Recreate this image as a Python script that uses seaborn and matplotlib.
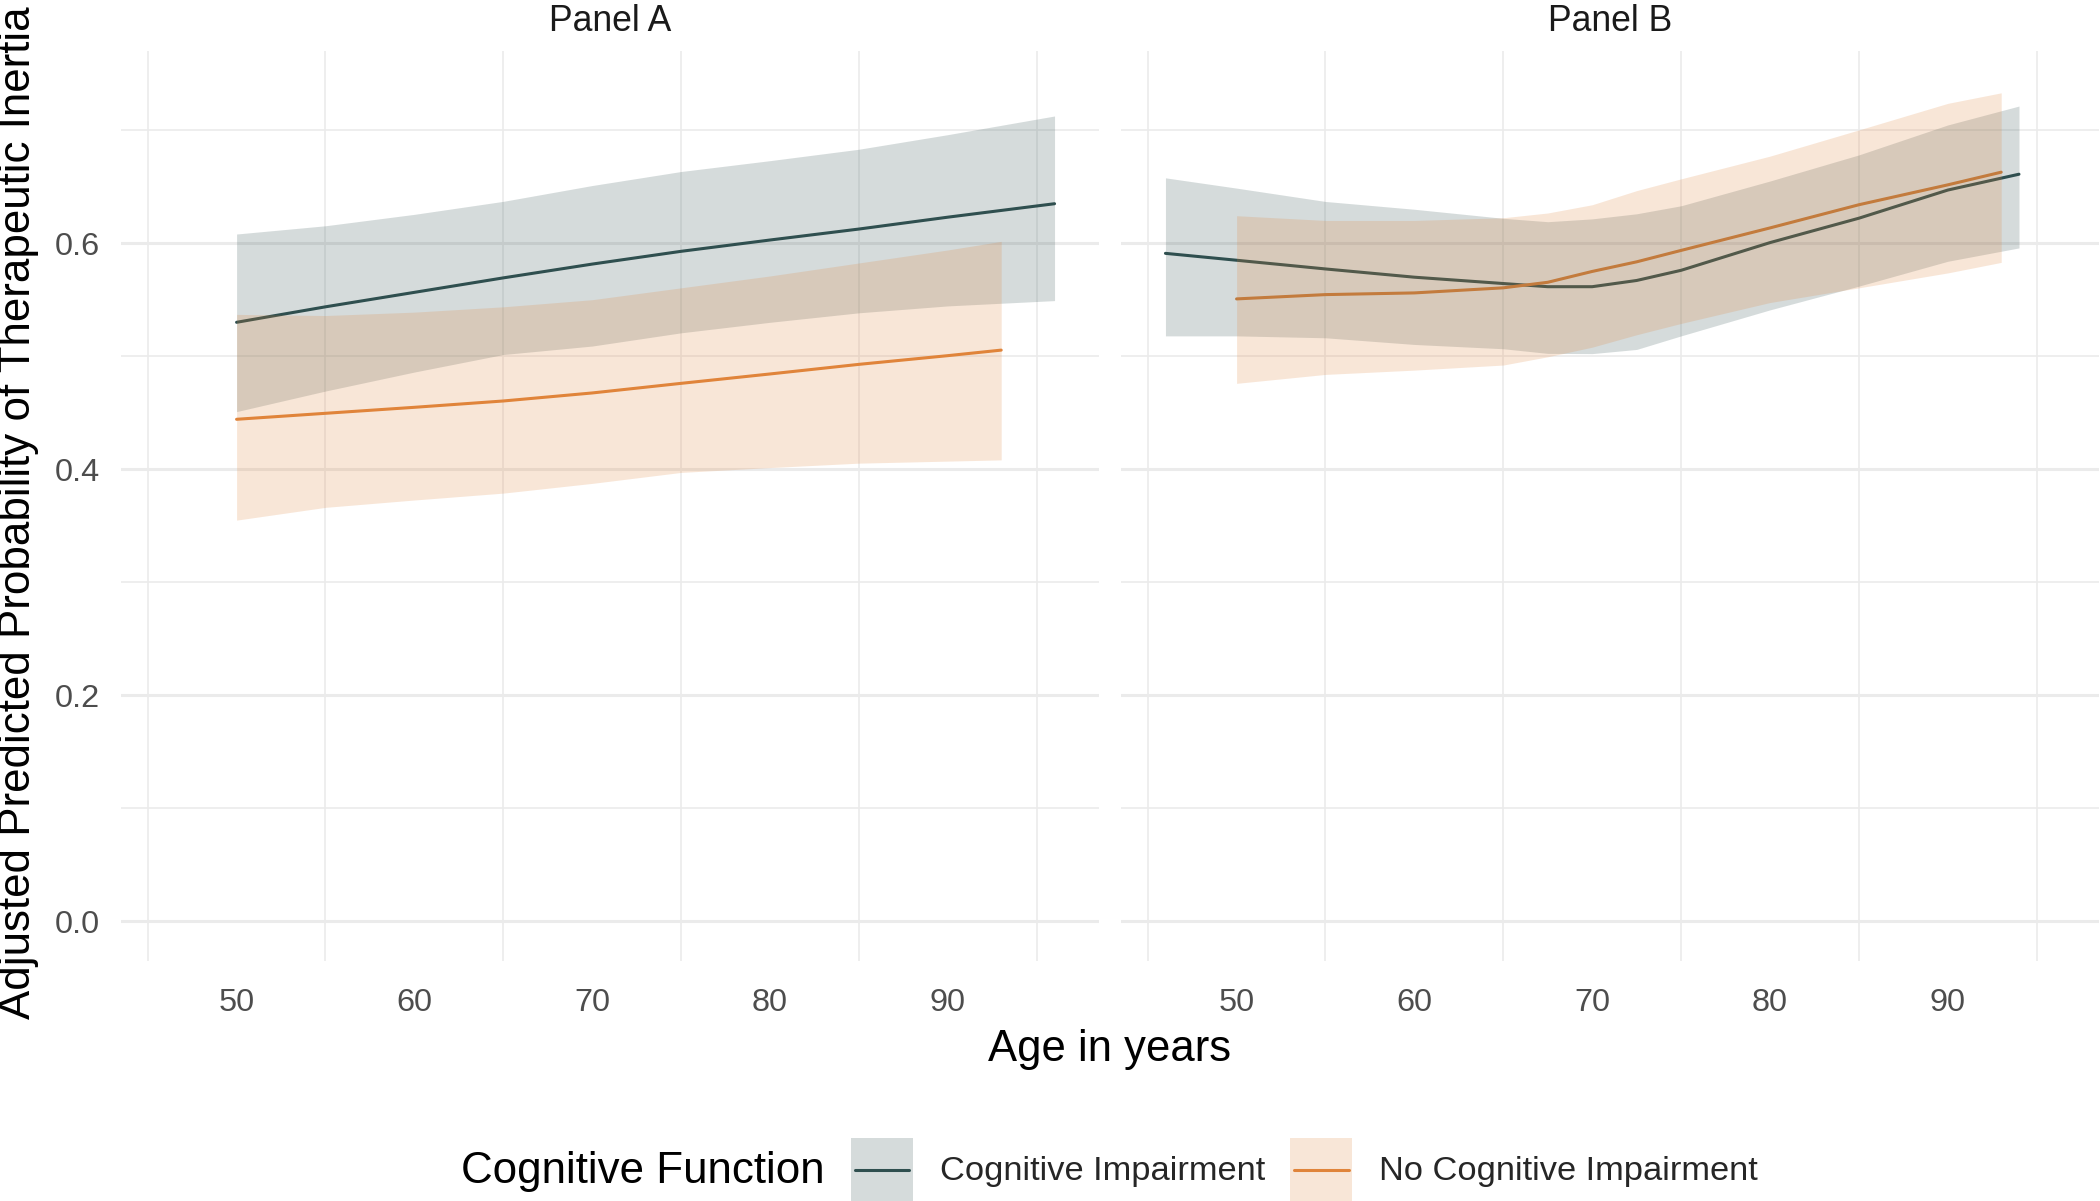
import numpy as np
import pandas as pd
import matplotlib
matplotlib.use("Agg")
import matplotlib.pyplot as plt
import seaborn as sns
from matplotlib.patches import Rectangle
from matplotlib.lines import Line2D
from matplotlib.ticker import FixedLocator

# ---------------- data ----------------
groups = ["Cognitive Impairment", "No Cognitive Impairment"]
panels = ["Panel A", "Panel B"]

A_ci_age = [50, 55, 60, 65, 70, 75, 80, 85, 90, 96]
A_ci_fit = [0.530, 0.5437, 0.5565, 0.5693, 0.5815, 0.5928, 0.6028, 0.6125, 0.6230, 0.6349]
A_ci_lo = [0.451, 0.4692, 0.486, 0.5015, 0.509, 0.5207, 0.530, 0.5384, 0.5445, 0.5492]
A_ci_hi = [0.6081, 0.6154, 0.6255, 0.637, 0.651, 0.6634, 0.673, 0.6831, 0.696, 0.7125]

A_nci_age = [50, 55, 60, 65, 70, 75, 80, 85, 90, 93]
A_nci_fit = [0.4442, 0.4495, 0.4548, 0.4604, 0.4675, 0.476, 0.4843, 0.4928, 0.5005, 0.5054]
A_nci_lo = [0.355, 0.3663, 0.3728, 0.3789, 0.3875, 0.3972, 0.4015, 0.4054, 0.4072, 0.4083]
A_nci_hi = [0.537, 0.536, 0.539, 0.5437, 0.550, 0.5605, 0.571, 0.5825, 0.594, 0.6016]

B_ci_age = [46, 50, 55, 60, 65, 67.5, 70, 72.5, 75, 80, 85, 90, 94]
B_ci_fit = [0.591, 0.5849, 0.5772, 0.5699, 0.5643, 0.5615, 0.5615, 0.567, 0.576, 0.6005, 0.6221, 0.647, 0.661]
B_ci_lo = [0.518, 0.518, 0.5163, 0.5104, 0.5066, 0.5025, 0.5023, 0.506, 0.518, 0.541, 0.562, 0.584, 0.5958]
B_ci_hi = [0.6578, 0.6487, 0.6369, 0.630, 0.622, 0.619, 0.6215, 0.626, 0.6331, 0.655, 0.6781, 0.7046, 0.7213]

B_nci_age = [50, 55, 60, 65, 67.5, 70, 72.5, 75, 80, 85, 90, 93]
B_nci_fit = [0.5507, 0.5545, 0.556, 0.5605, 0.5654, 0.575, 0.5835, 0.5936, 0.6135, 0.634, 0.6516, 0.6628]
B_nci_lo = [0.476, 0.4839, 0.4877, 0.4922, 0.4995, 0.508, 0.519, 0.529, 0.5475, 0.5605, 0.5737, 0.583]
B_nci_hi = [0.6243, 0.6201, 0.6201, 0.6225, 0.6267, 0.634, 0.6465, 0.6569, 0.677, 0.7002, 0.7237, 0.733]

x_ticks = [50, 60, 70, 80, 90]
x_ticklabels = ["50", "60", "70", "80", "90"]
y_ticks = [0.0, 0.2, 0.4, 0.6]
y_ticklabels = ["0.0", "0.2", "0.4", "0.6"]

# ---------------- build a tidy table ----------------
rows = []
series = {
    ("Panel A", groups[0]): (A_ci_age, A_ci_fit, A_ci_lo, A_ci_hi),
    ("Panel A", groups[1]): (A_nci_age, A_nci_fit, A_nci_lo, A_nci_hi),
    ("Panel B", groups[0]): (B_ci_age, B_ci_fit, B_ci_lo, B_ci_hi),
    ("Panel B", groups[1]): (B_nci_age, B_nci_fit, B_nci_lo, B_nci_hi),
}
for (p, g), (a, f, lo, hi) in series.items():
    for ai, fi, li, hii in zip(a, f, lo, hi):
        rows.append({"panel": p, "group": g, "age": ai, "fit": fi, "lo": li, "hi": hii})
df = pd.DataFrame(rows)

# ---------------- style ----------------
sns.set_theme(style="white")
plt.rcParams["font.family"] = ["Liberation Sans", "DejaVu Sans"]

colors = {groups[0]: "#2F4F4F", groups[1]: "#E0843A"}
grid_c = "#EBEBEB"

W, H = 2100, 1201
fig = plt.figure(figsize=(10.5, 6.005), dpi=200, facecolor="white")

ax_w = 978 / W
ax_b = 1 - 961 / H
ax_h = 910 / H
axA = fig.add_axes([121 / W, ax_b, ax_w, ax_h])
axB = fig.add_axes([1121 / W, ax_b, ax_w, ax_h])

for ax, p in zip([axA, axB], panels):
    sub = df[df.panel == p]
    sns.lineplot(data=sub, x="age", y="fit", hue="group", hue_order=groups,
                 palette=colors, estimator=None, sort=True, lw=1.1,
                 legend=False, ax=ax, zorder=2)
    for g in groups:
        s = sub[sub.group == g]
        ax.fill_between(s.age, s.lo, s.hi, color=colors[g], alpha=0.2,
                        lw=0, zorder=3)
    ax.set_xlim(43.5, 98.5)
    ax.set_ylim(-0.035, 0.770)
    ax.set_xticks(x_ticks)
    ax.set_xticklabels(x_ticklabels)
    ax.xaxis.set_minor_locator(FixedLocator([45, 55, 65, 75, 85, 95]))
    ax.set_yticks(y_ticks)
    ax.set_yticklabels(y_ticklabels)
    ax.yaxis.set_minor_locator(FixedLocator([0.1, 0.3, 0.5, 0.7]))
    ax.set_axisbelow(True)
    ax.grid(False)
    ax.grid(axis="x", which="minor", color=grid_c, lw=0.6)
    ax.grid(axis="y", which="major", color=grid_c, lw=1.1)
    ax.grid(axis="y", which="minor", color=grid_c, lw=0.6)
    for sp in ax.spines.values():
        sp.set_visible(False)
    ax.tick_params(axis="both", which="both", length=0)
    ax.tick_params(axis="x", labelsize=11.7, labelcolor="#4D4D4D", pad=9.6)
    ax.tick_params(axis="y", labelsize=11.7, labelcolor="#4D4D4D", pad=7.6)
    ax.set_xlabel("")
    ax.set_ylabel("")
    ax.set_facecolor("white")
    # strip title
    cx = ax.get_position().x0 + ax_w / 2
    fig.text(cx, 1 - 31.4 / H, p, ha="center", va="baseline",
             fontsize=12.8, color="#1A1A1A")

axB.tick_params(axis="y", labelleft=False)

# axis titles
fig.text(1110 / W, 1 - 1061 / H, "Age in years", ha="center", va="baseline",
         fontsize=15.7, color="black")
fig.text(19 / W, 1 - 1019 / H, "Adjusted Predicted Probability of Therapeutic Inertia",
         rotation=90, ha="center", va="bottom", fontsize=15.8, color="black")


# legend: ribbon-coloured square key with the line across its middle
class RibbonKey:
    def __init__(self, color):
        self.color = color


class RibbonKeyHandler:
    def legend_artist(self, legend, orig_handle, fontsize, handlebox):
        x0, y0 = handlebox.xdescent, handlebox.ydescent
        w, h = handlebox.width, handlebox.height
        tr = handlebox.get_transform()
        rect = Rectangle((-x0, -y0), w, h, facecolor=orig_handle.color,
                         alpha=0.2, edgecolor="none", transform=tr)
        inset = 0.06 * w
        line = Line2D([-x0 + inset, -x0 + w - inset], [-y0 + h / 2] * 2,
                      color=orig_handle.color, lw=1.1, transform=tr)
        handlebox.add_artist(rect)
        handlebox.add_artist(line)
        return rect


handles = [RibbonKey(colors[g]) for g in groups]
leg = fig.legend(handles, groups, loc="center left",
                 bbox_to_anchor=(851 / W, 1 - 1169.5 / H),
                 ncol=2, frameon=False, fontsize=12.4,
                 handlelength=1.8, handleheight=2.395, handletextpad=0.78,
                 columnspacing=0.73, borderpad=0, borderaxespad=0,
                 handler_map={RibbonKey: RibbonKeyHandler()})
fig.text(461 / W, 1 - 1183.3 / H, "Cognitive Function", ha="left",
         va="baseline", fontsize=15.8, color="black")

fig.savefig("out.png", dpi=200, facecolor="white")
